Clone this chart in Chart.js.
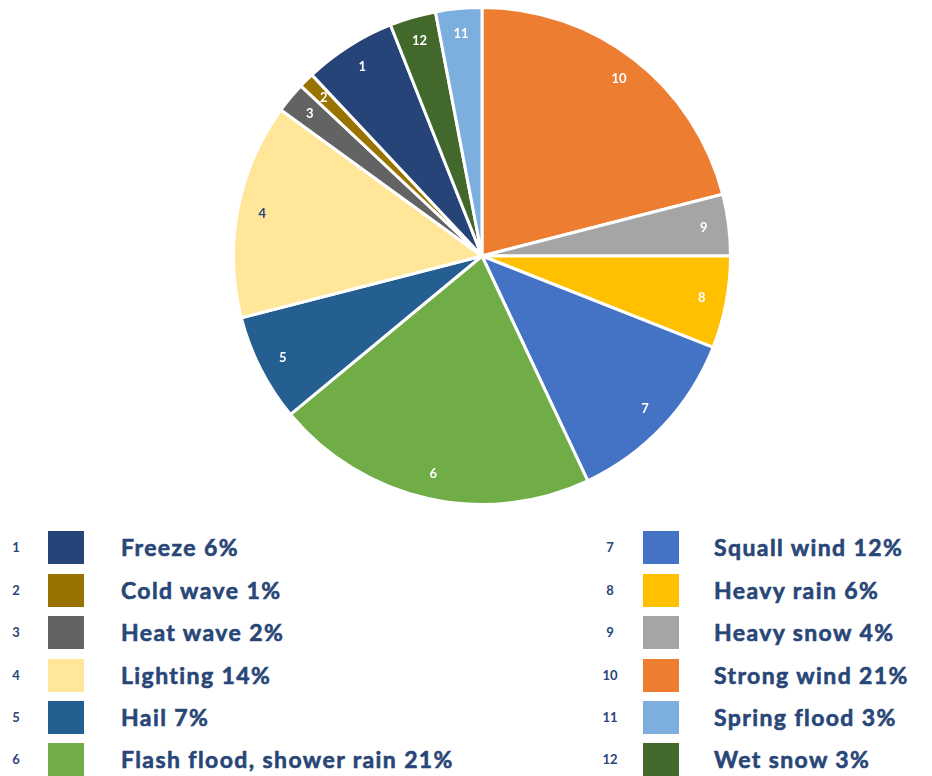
<!DOCTYPE html>
<html>
<head>
<meta charset="utf-8">
<script src="https://cdn.jsdelivr.net/npm/chart.js@4"></script>
<style>
  html, body { margin: 0; padding: 0; background: #fff; }
  body { width: 932px; height: 776px; position: relative; overflow: hidden; font-family: 'Lato', 'Open Sans', sans-serif; }
  #pieBox { position: absolute; left: 232px; top: 6px; width: 500px; height: 500px; }
  .legend-row { position: absolute; height: 34px; display: flex; align-items: center; color: #284677; font-weight: bold; }
  .legend-num { position: absolute; font-size: 13px; width: 24px; text-align: center; }
  .legend-box { position: absolute; width: 36px; height: 33px; }
  .legend-text { position: absolute; font-size: 23px; white-space: nowrap; letter-spacing: 1.4px; -webkit-text-stroke: 0.6px #284677; }
</style>
</head>
<body>
<div id="pieBox"><canvas id="pie"></canvas></div>
<div id="legend"></div>
<script>
// 類別編號 1..12 與百分比
const categoryNumbers = [1, 2, 3, 4, 5, 6, 7, 8, 9, 10, 11, 12];
const categoryNames = ['Freeze', 'Cold wave', 'Heat wave', 'Lighting', 'Hail', 'Flash flood, shower rain',
  'Squall wind', 'Heavy rain', 'Heavy snow', 'Strong wind', 'Spring flood', 'Wet snow'];
const categoryPercents = [6, 1, 2, 14, 7, 21, 12, 6, 4, 21, 3, 3];
const categoryColors = ['#264478', '#997300', '#636363', '#FFE699', '#255E91', '#70AD47',
  '#4472C4', '#FFC000', '#A5A5A5', '#ED7D31', '#7CAFDD', '#43682B'];

// 圓餅圖從 12 點鐘方向順時針的排列順序
const sliceOrder = [10, 9, 8, 7, 6, 5, 4, 3, 2, 1, 12, 11];

const idx = n => categoryNumbers.indexOf(n);

// 切片上的編號
const sliceNumberPlugin = {
  id: 'sliceNumbers',
  afterDatasetsDraw(chart) {
    const ctx = chart.ctx;
    const meta = chart.getDatasetMeta(0);
    ctx.save();
    ctx.font = 'bold 13px Lato, sans-serif';
    ctx.textAlign = 'center';
    ctx.textBaseline = 'middle';
    meta.data.forEach((arc, i) => {
      const p = arc.getProps(['x', 'y', 'startAngle', 'endAngle', 'outerRadius']);
      const mid = (p.startAngle + p.endAngle) / 2;
      const r = p.outerRadius * 0.9;
      const num = sliceOrder[i];
      ctx.fillStyle = num === 4 ? '#284677' : '#ffffff';
      ctx.fillText(String(num), p.x + Math.cos(mid) * r, p.y + Math.sin(mid) * r);
    });
    ctx.restore();
  }
};

new Chart(document.getElementById('pie'), {
  type: 'pie',
  data: {
    labels: sliceOrder.map(n => categoryNames[idx(n)]),
    datasets: [{
      data: sliceOrder.map(n => categoryPercents[idx(n)]),
      backgroundColor: sliceOrder.map(n => categoryColors[idx(n)]),
      borderColor: '#ffffff',
      borderWidth: 3,
      hoverOffset: 0
    }]
  },
  options: {
    responsive: true,
    maintainAspectRatio: false,
    animation: false,
    layout: { padding: 0 },
    plugins: {
      legend: { display: false },
      tooltip: { enabled: false }
    }
  },
  plugins: [sliceNumberPlugin]
});

// 下方兩欄圖例
const legend = document.getElementById('legend');
const rowTops = [530, 573, 615, 658, 700, 742];
categoryNumbers.forEach((n, i) => {
  const col = i < 6 ? 0 : 1;
  const top = rowTops[i % 6];
  const numX = col === 0 ? 4 : 598;
  const boxX = col === 0 ? 48 : 643;
  const textX = col === 0 ? 121 : 714;
  legend.insertAdjacentHTML('beforeend', `
    <div class="legend-row" style="top:${top}px;left:0;">
      <span class="legend-num" style="left:${numX}px;">${n}</span>
      <span class="legend-box" style="left:${boxX}px;background:${categoryColors[i]};"></span>
      <span class="legend-text" style="left:${textX}px;">${categoryNames[i]} ${categoryPercents[i]}%</span>
    </div>`);
});
</script>
</body>
</html>
